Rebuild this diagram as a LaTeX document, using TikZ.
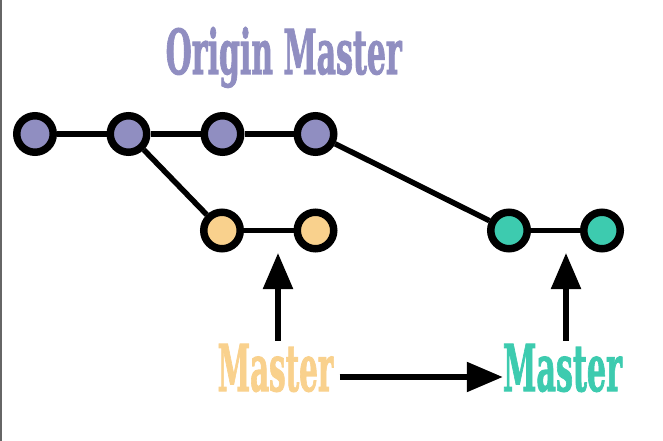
\documentclass[tikz,border=0pt]{standalone}
\usepackage{fontspec}
\usepackage{graphicx}
\newfontfamily\slabfont[FakeBold=2]{DejaVu Serif}
\usetikzlibrary{arrows.meta}
\definecolor{cpurple}{HTML}{908EC1}
\definecolor{corange}{HTML}{F9D18D}
\definecolor{cgreen}{HTML}{3DCBAF}
\begin{document}
\begin{tikzpicture}[x=1bp,y=-1bp,
  commit/.style={circle,draw=black,line width=7.5bp,minimum size=36.5bp,inner sep=0pt},
  link/.style={line width=5.5bp,black},
  pointer/.style={line width=5.5bp,black,-{Triangle[length=36bp,width=29bp]}},
  lbl/.style={inner sep=0pt,anchor=base}]
\useasboundingbox (0,0) rectangle (663,441);
\draw[line width=1.5bp, black!60] (0.75,0) -- (0.75,441);
% commits
\node[commit,fill=cpurple] (p1) at (35,134) {};
\node[commit,fill=cpurple] (p2) at (128.5,134) {};
\node[commit,fill=cpurple] (p3) at (222.5,134) {};
\node[commit,fill=cpurple] (p4) at (315.5,134) {};
\node[commit,fill=corange] (o1) at (222,230.5) {};
\node[commit,fill=corange] (o2) at (315.5,230.5) {};
\node[commit,fill=cgreen] (g1) at (509,230.5) {};
\node[commit,fill=cgreen] (g2) at (602,230.5) {};
% links
\draw[link] (p1) -- (p2);
\draw[link] (p2) -- (p3);
\draw[link] (p3) -- (p4);
\draw[link] (p2) -- (o1);
\draw[link] (o1) -- (o2);
\draw[link] (p4) -- (g1);
\draw[link] (g1) -- (g2);
% labels
\node[lbl,text=cpurple] (om) at (283.7,74) {\resizebox{236bp}{47bp}{\slabfont\bfseries Origin Master}};
\node[lbl,text=corange] (mo) at (275.5,391) {\resizebox{115.6bp}{47bp}{\slabfont\bfseries Master}};
\node[lbl,text=cgreen] (mg) at (562.5,391) {\resizebox{119bp}{47bp}{\slabfont\bfseries Master}};
% pointers
\coordinate (mo-up) at (278,253);
\coordinate (mg-up) at (566,253);
\coordinate (hline) at (0,377);
\draw[pointer] ([yshift=3bp]mo.north -| mo-up) -- (mo-up);
\draw[pointer] ([yshift=3bp]mg.north -| mg-up) -- (mg-up);
\draw[pointer] ([xshift=6bp]mo.east |- hline) -- (mg.west |- hline);
\end{tikzpicture}
\end{document}
